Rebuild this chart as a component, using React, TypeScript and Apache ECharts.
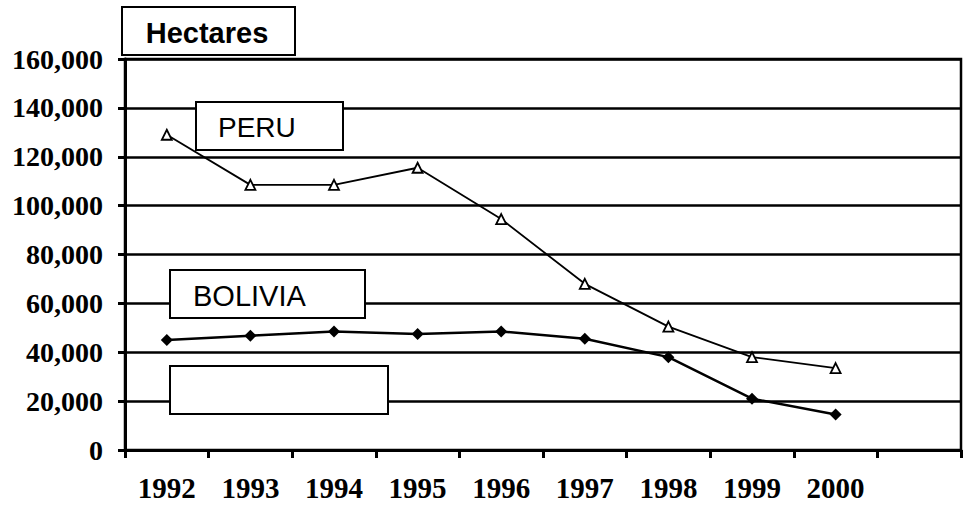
import React, { useEffect, useRef } from "react";
import * as echarts from "echarts";

const years = ["1992", "1993", "1994", "1995", "1996", "1997", "1998", "1999", "2000", ""];
const peru = [129000, 108500, 108500, 115500, 94500, 68000, 50500, 38000, 33500, null];
const bolivia = [45000, 46800, 48500, 47500, 48500, 45500, 38000, 21000, 14500, null];
const yTicks = { min: 0, max: 160000, interval: 20000 };
const unitLabel = "Hectares";
const seriesNames = ["PERU", "BOLIVIA"];

export default function App() {
  const ref = useRef<HTMLDivElement>(null);
  useEffect(() => {
    if (!ref.current) return;
    const chart = echarts.init(ref.current, null, { renderer: "svg" });
    const serif = "'Liberation Serif', 'Times New Roman', serif";
    const sans = "'Liberation Sans', Arial, sans-serif";
    chart.setOption({
      animation: false,
      backgroundColor: "#ffffff",
      grid: {
        left: 125,
        right: 4,
        top: 59,
        bottom: 58,
        show: true,
        borderColor: "#000",
        borderWidth: 2.5,
        backgroundColor: "transparent",
      },
      xAxis: {
        type: "category",
        data: years,
        boundaryGap: true,
        axisLine: { show: true, lineStyle: { color: "#000", width: 3 } },
        axisTick: { show: true, length: 8, interval: 0, lineStyle: { color: "#000", width: 3 } },
        axisLabel: {
          interval: 0,
          color: "#000",
          fontFamily: serif,
          fontWeight: "bold",
          fontSize: 29,
          margin: 23,
        },
        splitLine: { show: false },
      },
      yAxis: {
        type: "value",
        min: yTicks.min,
        max: yTicks.max,
        interval: yTicks.interval,
        axisLine: { show: true, lineStyle: { color: "#000", width: 3 } },
        axisTick: { show: true, length: 7, lineStyle: { color: "#000", width: 3 } },
        axisLabel: {
          color: "#000",
          fontFamily: serif,
          fontWeight: "bold",
          fontSize: 28,
          margin: 22,
          formatter: (v: number) => v.toLocaleString("en-US"),
        },
        splitLine: { show: true, lineStyle: { color: "#000", width: 2.5 } },
      },
      series: [
        {
          name: seriesNames[0],
          type: "line",
          data: peru,
          symbol: "triangle",
          symbolSize: 10,
          showAllSymbol: true,
          lineStyle: { color: "#000", width: 1.8 },
          itemStyle: { color: "#fff", borderColor: "#000", borderWidth: 1.8 },
          z: 3,
        },
        {
          name: seriesNames[1],
          type: "line",
          data: bolivia,
          symbol: "diamond",
          symbolSize: 12,
          showAllSymbol: true,
          lineStyle: { color: "#000", width: 2.5 },
          itemStyle: { color: "#000", borderColor: "#000", borderWidth: 0 },
          z: 4,
        },
      ],
      graphic: [
        {
          type: "rect",
          z: 100,
          shape: { x: 122, y: 7, width: 173, height: 48 },
          style: { fill: "#fff", stroke: "#000", lineWidth: 2 },
        },
        {
          type: "text",
          z: 101,
          x: 207,
          y: 33,
          style: {
            text: unitLabel,
            fill: "#000",
            font: `bold 29px ${sans}`,
            textAlign: "center",
            textVerticalAlign: "middle",
          },
        },
        {
          type: "rect",
          z: 100,
          shape: { x: 196, y: 102, width: 147, height: 48 },
          style: { fill: "#fff", stroke: "#000", lineWidth: 2 },
        },
        {
          type: "text",
          z: 101,
          x: 218,
          y: 127,
          style: {
            text: seriesNames[0],
            fill: "#000",
            font: `28px ${sans}`,
            textAlign: "left",
            textVerticalAlign: "middle",
          },
        },
        {
          type: "rect",
          z: 100,
          shape: { x: 170, y: 270, width: 195, height: 48 },
          style: { fill: "#fff", stroke: "#000", lineWidth: 2 },
        },
        {
          type: "text",
          z: 101,
          x: 193,
          y: 296,
          style: {
            text: seriesNames[1],
            fill: "#000",
            font: `29px ${sans}`,
            textAlign: "left",
            textVerticalAlign: "middle",
          },
        },
        {
          type: "rect",
          z: 100,
          shape: { x: 170, y: 366, width: 218, height: 48 },
          style: { fill: "#fff", stroke: "#000", lineWidth: 2 },
        },
      ],
    });
    return () => chart.dispose();
  }, []);
  return <div ref={ref} style={{ width: 965, height: 508, position: "absolute", left: 0, top: 0 }} />;
}
